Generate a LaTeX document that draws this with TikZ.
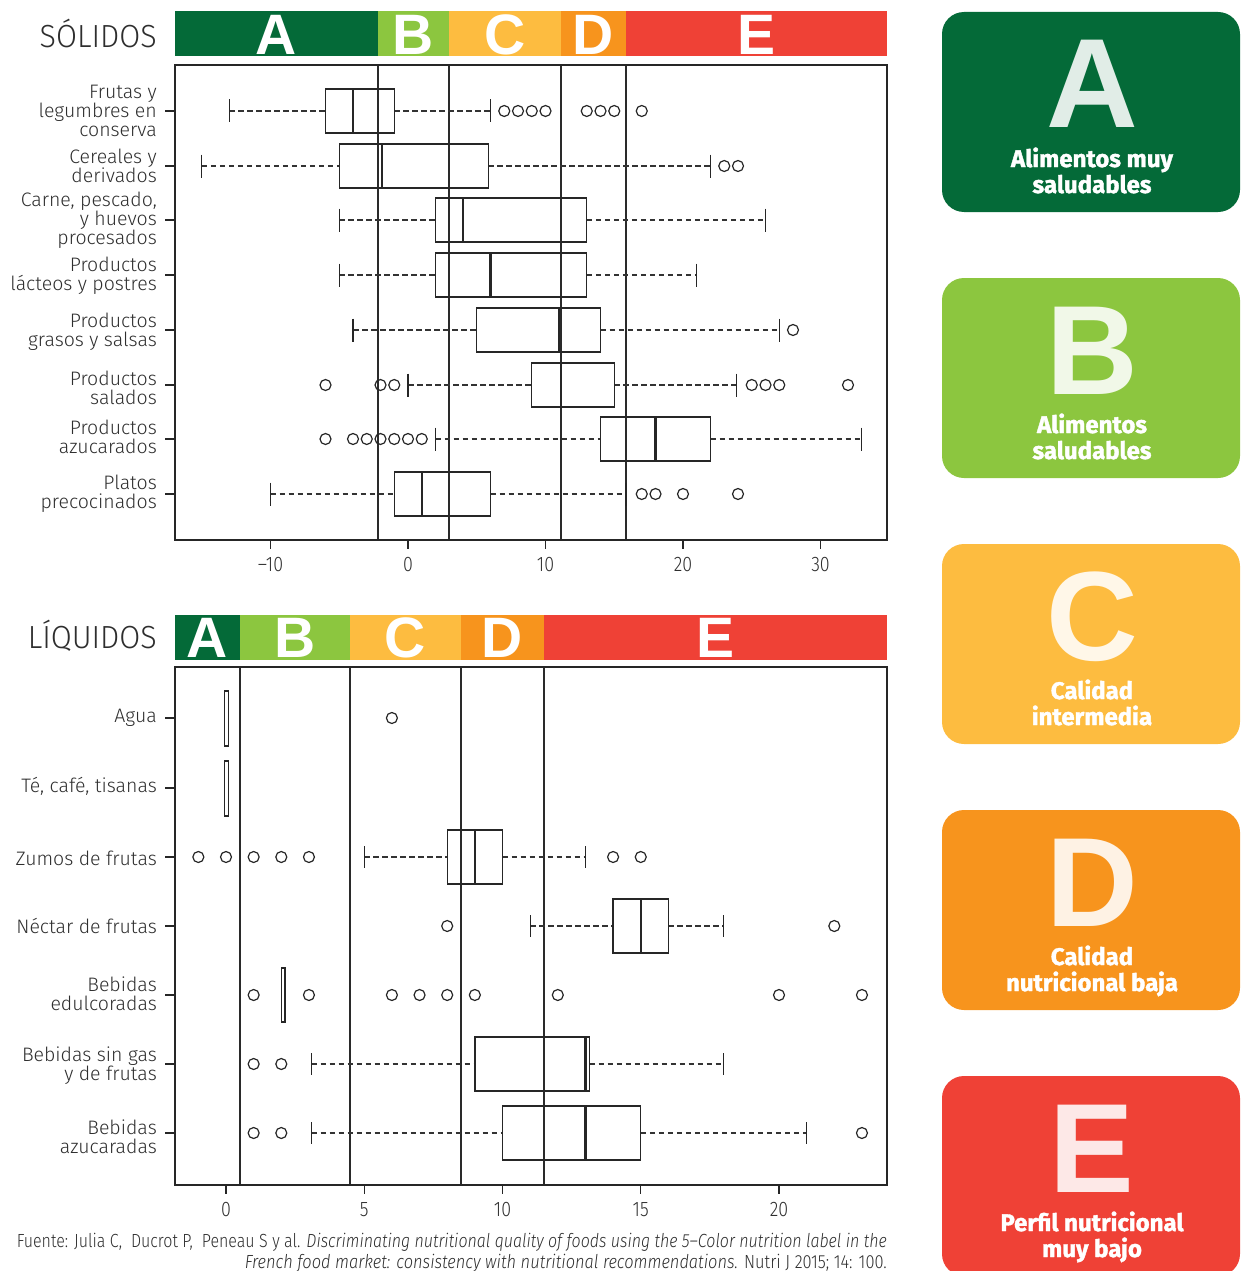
\documentclass[tikz,border=0pt]{standalone}
\usepackage{graphicx}
\usepackage{fontspec}
\setmainfont{Fira Sans}
\newfontfamily\labfont{Fira Sans}[UprightFont={* Light}, ItalicFont={* Light Italic}]
\newfontfamily\headfont{Fira Sans}[UprightFont={* Light}, FakeStretch=0.95]
\newfontfamily\tickfont{Fira Sans}[UprightFont={* Light}, FakeStretch=0.85]
\newfontfamily\barfont{Liberation Sans}
\newfontfamily\capfont{Fira Sans}[BoldFeatures={FakeBold=1.6}]
\definecolor{nsA}{HTML}{046A38}
\definecolor{nsB}{HTML}{8CC63F}
\definecolor{nsC}{HTML}{FDBC40}
\definecolor{nsD}{HTML}{F7941D}
\definecolor{nsE}{HTML}{EF4136}
\definecolor{txtgray}{HTML}{2E2E2E}
\definecolor{lineg}{HTML}{2A2A2A}
\newsavebox\fitbox
\newcommand\fitto[2]{\sbox\fitbox{#2}\pgfmathsetmacro\fitratio{#1/\the\wd\fitbox}\scalebox{\fitratio}[1]{\usebox\fitbox}}
\newcommand\tx[1]{408+13.75*(#1)}
\newcommand\bx[1]{226+27.65*(#1)}
% #1 y, #2 half height, #3 cap half, #4 wlo, #5 q1, #6 med, #7 q3, #8 whi
\newcommand\plotbox[8]{%
  \draw[whisk] ({#4},#1) -- ({#5},#1);
  \draw[whisk] ({#7},#1) -- ({#8},#1);
  \draw[capst] ({#4},{#1-#3}) -- ({#4},{#1+#3});
  \draw[capst] ({#8},{#1-#3}) -- ({#8},{#1+#3});
  \draw[boxst] ({#5},{#1-#2}) rectangle ({#7},{#1+#2});
  \draw[medst] ({#6},{#1-#2}) -- ({#6},{#1+#2});
}
\newcommand\tbox[6]{\plotbox{#1}{22}{11.5}{\tx{#2}}{\tx{#3}}{\tx{#4}}{\tx{#5}}{\tx{#6}}}
\newcommand\bbox[6]{\plotbox{#1}{27}{11}{\bx{#2}}{\bx{#3}}{\bx{#4}}{\bx{#5}}{\bx{#6}}}
\newcommand\touts[2]{\foreach \v in {#2} {\draw[outl] ({\tx{\v}},#1) circle[radius=5.5pt];}}
\newcommand\bouts[2]{\foreach \v in {#2} {\draw[outl] ({\bx{\v}},#1) circle[radius=5.5pt];}}
\begin{document}
\begin{tikzpicture}[x=1pt,y=-1pt,
  frame/.style={line width=1.5pt, draw=black!85},
  catline/.style={line width=1.5pt, draw=lineg},
  whisk/.style={line width=1.2pt, dash pattern=on 5.5pt off 3.5pt, draw=black!80},
  capst/.style={line width=1.3pt, draw=black!85},
  boxst/.style={line width=1.3pt, draw=black!85},
  medst/.style={line width=2.2pt, draw=black!85},
  outl/.style={line width=1.2pt, draw=black!85},
  axtick/.style={line width=1.3pt, draw=black!85},
  lab/.style={anchor=east, align=right, inner sep=0pt, text=txtgray, font=\labfont\fontsize{19.5}{19}\selectfont},
  ticklab/.style={inner sep=0pt, text=txtgray, font=\tickfont\fontsize{21}{21}\selectfont},
  barletter/.style={anchor=base, inner sep=0pt, text depth=0pt, text=white, font=\barfont\bfseries\fontsize{57}{57}\selectfont},
  head/.style={anchor=base east, inner sep=0pt, text=txtgray, font=\headfont\fontsize{32}{32}\selectfont},
  bigletter/.style={anchor=base, inner sep=0pt, text depth=0pt, font=\barfont\bfseries\fontsize{127}{127}\selectfont},
  capline/.style={anchor=base, align=center, inner sep=0pt, text=white, font=\capfont\bfseries\fontsize{24}{26}\selectfont},
  foot/.style={anchor=base east, inner sep=0pt, text=txtgray, font=\labfont\fontsize{19}{19}\selectfont},
  panel/.style={rounded corners=22pt},
]
\useasboundingbox (0,0) rectangle (1240,1271);
\clip (0,0) rectangle (1240,1271);

% ---------------- SOLIDOS ----------------
\def\sA{378}\def\sB{449}\def\sC{561}\def\sD{626}
\node[head] (hsol) at (157,48) {SÓLIDOS};
\fill[nsA] (175,11) rectangle (\sA,56);
\fill[nsB] (\sA,11) rectangle (\sB,56);
\fill[nsC] (\sB,11) rectangle (\sC,56);
\fill[nsD] (\sC,11) rectangle (\sD,56);
\fill[nsE] (\sD,11) rectangle (887,56);
\node[barletter] (sa) at ({(175+\sA)/2},55) {A};
\node[barletter] (sb) at ({(\sA+\sB)/2},55) {B};
\node[barletter] (sc) at ({(\sB+\sC)/2},55) {C};
\node[barletter] (sd) at ({(\sC+\sD)/2},55) {D};
\node[barletter] (se) at ({(\sD+887)/2},55) {E};

\foreach \c in {\sA,\sB,\sC,\sD} {\draw[catline] (\c,65) -- (\c,540);}
\draw[frame] (175,65) rectangle (887,540);
\foreach \t/\l in {-10/–10,0/0,10/10,20/20,30/30} {
  \draw[axtick] ({\tx{\t}},540) -- ({\tx{\t}},549);
  \node[ticklab] (st\t) at ({\tx{\t}},565) {\l};
}
\foreach \y in {111,166,220,275,330,385,439,494} {\draw[axtick] (165,\y) -- (175,\y);}

\node[lab] (s1) at (157,111) {Frutas y\\legumbres en\\conserva};
\node[lab] (s2) at (157,166) {Cereales y\\derivados};
\node[lab] (s3) at (157,220) {Carne, pescado,\\y huevos\\procesados};
\node[lab] (s4) at (157,276) {Productos\\lácteos y postres};
\node[lab] (s5) at (157,332) {Productos\\grasos y salsas};
\node[lab] (s6) at (157,388) {Productos\\salados};
\node[lab] (s7) at (157,437) {Productos\\azucarados};
\node[lab] (s8) at (157,494) {Platos\\precocinados};

\tbox{111}{-13}{-6}{-4}{-1}{6}
\touts{111}{7,8,9,10,13,14,15,17}
\tbox{166}{-15}{-5}{-1.9}{5.85}{22}
\touts{166}{23,24}
\tbox{220}{-5}{2}{4}{13}{26}
\tbox{275}{-5}{2}{6}{13}{21}
\tbox{330}{-4}{5}{11}{14}{27}
\touts{330}{28}
\tbox{385}{0}{9}{11.15}{15}{23.9}
\touts{385}{-6,-2,-1,25,26,27,32}
\tbox{439}{2}{14}{18}{22}{33}
\touts{439}{-6,-4,-3,-2,-1,0,1}
\tbox{494}{-10}{-1}{1}{6}{15.85}
\touts{494}{17,18,20,24}

% ---------------- LIQUIDOS ----------------
\def\lA{240}\def\lB{350}\def\lC{461}\def\lD{544}
\node[head] (hliq) at (157,648) {LÍQUIDOS};
\fill[nsA] (175,615) rectangle (\lA,660);
\fill[nsB] (\lA,615) rectangle (\lB,660);
\fill[nsC] (\lB,615) rectangle (\lC,660);
\fill[nsD] (\lC,615) rectangle (\lD,660);
\fill[nsE] (\lD,615) rectangle (887,660);
\node[barletter] (la) at ({(175+\lA)/2},657) {A};
\node[barletter] (lb) at ({(\lA+\lB)/2},657) {B};
\node[barletter] (lc) at ({(\lB+\lC)/2},657) {C};
\node[barletter] (ld) at ({(\lC+\lD)/2},657) {D};
\node[barletter] (le) at ({(\lD+887)/2},657) {E};

\foreach \c in {\lA,\lB,\lC,\lD} {\draw[catline] (\c,667) -- (\c,1185);}
\draw[frame] (175,667) rectangle (887,1185);
\foreach \t in {0,5,10,15,20} {
  \draw[axtick] ({\bx{\t}},1185) -- ({\bx{\t}},1194);
  \node[ticklab] (lt\t) at ({\bx{\t}},1210) {\t};
}
\foreach \y in {718,788,857,926,995,1064,1133} {\draw[axtick] (165,\y) -- (175,\y);}

\node[lab] (q1) at (157,718) {Agua};
\node[lab] (q2) at (157,786) {Té, café, tisanas};
\node[lab] (q3) at (157,858) {Zumos de frutas};
\node[lab] (q4) at (157,926) {Néctar de frutas};
\node[lab] (q5) at (157,994) {Bebidas\\edulcoradas};
\node[lab] (q6) at (157,1066) {Bebidas sin gas\\y de frutas};
\node[lab] (q7) at (157,1137) {Bebidas\\azucaradas};

\draw[boxst] (224.8,691) rectangle (228.3,746);
\bouts{718}{6}
\draw[boxst] (224.8,761) rectangle (228.3,816);
\bbox{857}{5}{8}{9}{10}{13}
\bouts{857}{-1,0,1,2,3,14,15}
\bbox{926}{11}{14}{15}{16}{18}
\bouts{926}{8,22}
\draw[boxst] ({\bx{2}},968) rectangle ({\bx{2.13}},1022);
\bouts{995}{1,3,6,7,8,9,12,20,23}
\bbox{1064}{3.1}{9}{13}{13.15}{18}
\bouts{1064}{1,2}
\bbox{1133}{3.1}{10}{13}{15}{21}
\bouts{1133}{1,2,23}

% ---------------- Footnote ----------------
\node[foot] (f1) at (887,1247) {\fitto{870}{Fuente: Julia C,\ \ Ducrot P,\ \ Peneau S y al. \textit{Discriminating nutritional quality of foods using the 5–Color nutrition label in the}}};
\node[foot] (f2) at (887,1268) {\fitto{642}{\textit{French food market: consistency with nutritional recommendations.} Nutri J 2015; 14: 100.}};

% ---------------- Panels ----------------
\foreach \k/\top/\col/\L/\la/\lb in {
  A/12/nsA/A/Alimentos muy/saludables,
  B/278/nsB/B/Alimentos/saludables,
  C/544/nsC/C/Calidad/intermedia,
  D/810/nsD/D/Calidad/nutricional baja,
  E/1076/nsE/E/Perfil nutricional/muy bajo} {
  \fill[\col, panel] (942,\top) rectangle (1240,{\top+200});
  \node[bigletter, text=white!88!\col] (p\k) at (1092,{\top+116}) {\L};
  \node[capline] (p\k t) at (1092,{\top+181}) {\la\\\lb};
}
\end{tikzpicture}
\end{document}
